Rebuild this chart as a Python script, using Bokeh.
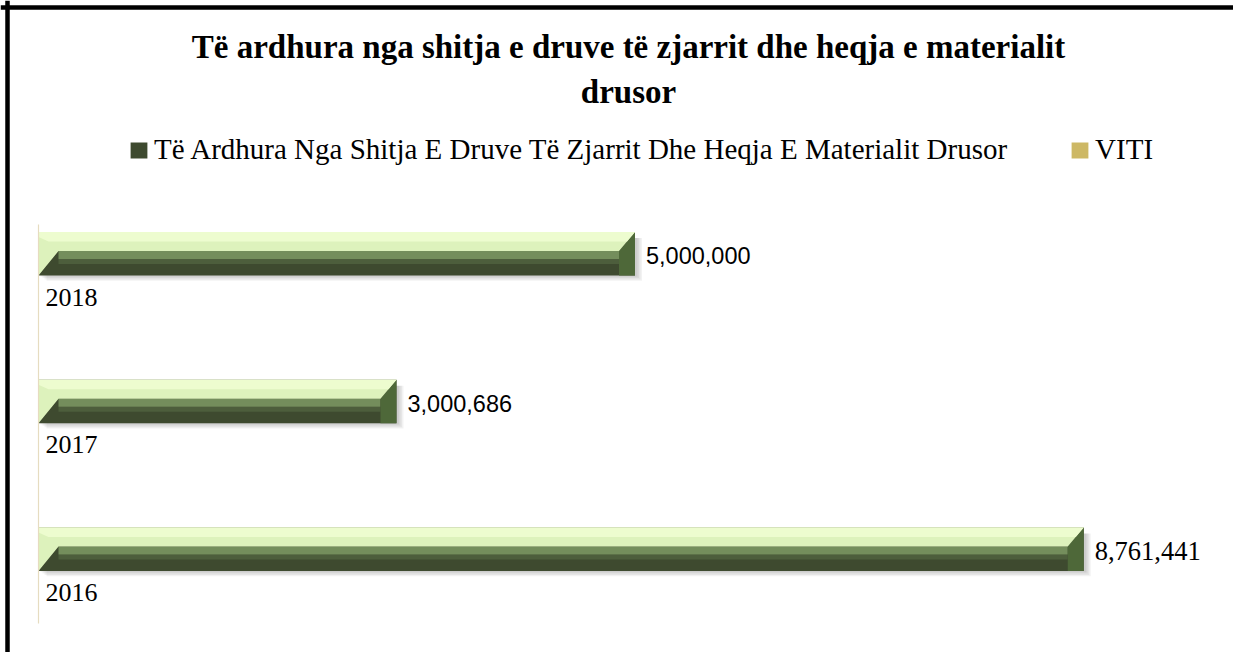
from bokeh.plotting import figure
from bokeh.models import Range1d, Label, Legend, LegendItem, Span, ColumnDataSource
from bokeh.core.properties import value
from bokeh.embed import file_html
from bokeh.resources import INLINE

# ---------------- data ----------------
years = ["2016", "2017", "2018"]
revenue = [8761441, 3000686, 5000000]
viti = [2016, 2017, 2018]
revenue_labels = ["8,761,441", "3,000,686", "5,000,000"]
title_line1 = "Të ardhura nga shitja e druve të zjarrit dhe heqja e materialit"
title_line2 = "drusor"
series_name = "Të Ardhura Nga Shitja E Druve Të Zjarrit Dhe Heqja E Materialit Drusor"
viti_name = "VITI"

# ---------------- layout (canvas pixels) ----------------
W, H = 1233, 652
ZERO_PX = 38                  # canvas x of value 0
PX_PER_UNIT = 119.3e-6        # pixels per unit of value
ROW_PX = 147.75               # pixels between category rows
FIRST_ROW_PX = 549            # canvas y of first category centre

def dx(px):
    return px / PX_PER_UNIT

def dy(px):
    return px / ROW_PX

def X(cx):
    return (cx - ZERO_PX) / PX_PER_UNIT

def Y(cy):
    return (FIRST_ROW_PX - cy) / ROW_PX

p = figure(width=W, height=H, output_backend="svg", toolbar_location=None,
           x_axis_location=None, y_axis_location=None, min_border=0, title=None,
           x_range=Range1d(X(0), X(W)), y_range=Range1d(Y(H), Y(0)))
p.outline_line_color = None
p.background_fill_color = "white"
p.border_fill_color = "white"
p.xgrid.visible = False
p.ygrid.visible = False

idx = list(range(len(years)))

TOP, MID, BAND, BAND2, BOT = 22, 3, -5, -10, -21.5
LB, RB = 20, 16

# shadow
for k in range(1, 5):
    p.quad(left=[dx(2 * k)] * len(idx), right=[v + dx(1.5 * k + 1) for v in revenue],
           top=[c + dy(TOP - 6) for c in idx], bottom=[c + dy(BOT - 1.3 * k) for c in idx],
           fill_color="black", fill_alpha=0.05, line_color=None)

# base (dark front face)
base = p.quad(left=[0] * len(idx), right=revenue,
              top=[c + dy(TOP) for c in idx], bottom=[c + dy(BOT) for c in idx],
              fill_color="#3e4a2f", line_color=None)
p.quad(left=[dx(LB)] * len(idx), right=[v - dx(RB) for v in revenue],
       top=[c + dy(BAND) for c in idx], bottom=[c + dy(BAND2) for c in idx],
       fill_color="#4d5e3c", line_color=None)
p.quad(left=[dx(LB)] * len(idx), right=[v - dx(RB) for v in revenue],
       top=[c + dy(MID) for c in idx], bottom=[c + dy(BAND) for c in idx],
       fill_color="#748e5c", line_color=None)

# right end face
end_xs = [[v - dx(RB), v, v, v - dx(RB)] for v in revenue]
end_ys = [[c + dy(MID), c + dy(TOP), c + dy(BOT), c + dy(BOT)] for c in idx]
p.patches(end_xs, end_ys, fill_color="#4e6839", line_color=None)

# light top + left bevel
top_xs = [[0, v, v - dx(RB), dx(LB), 0] for v in revenue]
top_ys = [[c + dy(TOP), c + dy(TOP), c + dy(MID), c + dy(MID), c + dy(BOT)] for c in idx]
p.patches(top_xs, top_ys, fill_color="#ddf2bc", line_color=None)
hi_xs = [[0, v, v - dx(RB * 0.5), dx(LB * 0.5), 0] for v in revenue]
hi_ys = [[c + dy(TOP), c + dy(TOP), c + dy(12.5), c + dy(12.5), c + dy(TOP - 5)] for c in idx]
p.patches(hi_xs, hi_ys, fill_color="#edfccf", line_color=None)

# VITI series (tiny on this scale)
viti_r = p.hbar(y=[c + dy(-30) for c in idx], left=0, right=viti, height=dy(40),
                fill_color="#cdb865", line_color=None)

# category axis line
p.segment(x0=[0], x1=[0], y0=[idx[0] - 0.5], y1=[idx[-1] + 0.2],
          line_color="#e6dcc0", line_width=1.2)

# value labels
fonts = ["Liberation Serif", "Liberation Sans", "Liberation Sans"]
sizes = ["26.5px", "23.5px", "23.5px"]
src = ColumnDataSource(dict(x=[v + dx(11) for v in revenue], y=[c + dy(-1.5) for c in idx],
                            t=revenue_labels, f=fonts, s=sizes))
p.text(x="x", y="y", text="t", source=src, text_font="f", text_font_size="s",
       text_baseline="middle", text_align="left", text_color="black")

# category labels
p.text(x=[dx(7)] * len(idx), y=[c + dy(-43) for c in idx], text=years,
       text_font=value("Liberation Serif"), text_font_size="26px",
       text_baseline="middle", text_align="left", text_color="black")

# title (two wrapped lines)
for txt, base_y in ((title_line1, 46), (title_line2, 91)):
    p.add_layout(Label(x=X(628), y=Y(base_y), text=txt, text_align="center",
                       text_baseline="alphabetic", text_font="Liberation Serif",
                       text_font_style="bold", text_font_size="33px", text_color="black"))

# legend
legend = Legend(items=[LegendItem(label=series_name, renderers=[base]),
                       LegendItem(label=viti_name, renderers=[viti_r])],
                orientation="horizontal", location=(128, H - 166),
                glyph_width=21, glyph_height=20, label_standoff=5, spacing=62,
                padding=0, margin=0, border_line_color=None, background_fill_alpha=0,
                label_text_font="Liberation Serif", label_text_font_size="29px",
                label_text_color="black")
p.add_layout(legend)

# frame border (top and left)
p.add_layout(Span(location=X(7), dimension="height", line_color="black", line_width=4.5))
p.add_layout(Span(location=Y(7), dimension="width", line_color="black", line_width=4.5))

open("out.html", "w").write(file_html(p, INLINE))
